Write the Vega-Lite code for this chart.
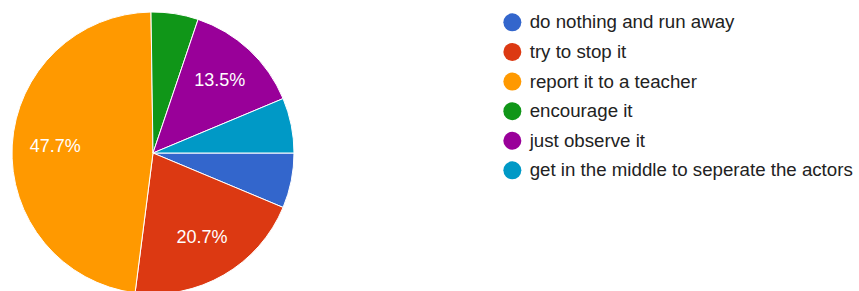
{
  "$schema": "https://vega.github.io/schema/vega-lite/v6.json",
  "width": 306,
  "height": 306,
  "padding": 0,
  "background": "white",
  "config": {"view": {"stroke": null}, "font": "Liberation Sans"},
  "data": {
    "values": [
      {"idx": 1, "answer": "do nothing and run away", "count": 7, "label": ""},
      {"idx": 2, "answer": "try to stop it", "count": 23, "label": "20.7%"},
      {"idx": 3, "answer": "report it to a teacher", "count": 53, "label": "47.7%"},
      {"idx": 4, "answer": "encourage it", "count": 6, "label": ""},
      {"idx": 5, "answer": "just observe it", "count": 15, "label": "13.5%"},
      {"idx": 6, "answer": "get in the middle to seperate the actors", "count": 7, "label": ""}
    ]
  },
  "encoding": {
    "theta": {"field": "count", "type": "quantitative", "stack": true, "scale": {"range": [1.5707963, 7.8539816]}},
    "order": {"field": "idx", "type": "quantitative"}
  },
  "layer": [
    {
      "mark": {"type": "arc", "outerRadius": 141, "stroke": "white", "strokeWidth": 1},
      "encoding": {
        "color": {
          "field": "answer",
          "type": "nominal",
          "scale": {
            "domain": ["do nothing and run away", "try to stop it", "report it to a teacher", "encourage it", "just observe it", "get in the middle to seperate the actors"],
            "range": ["#3366cc", "#dc3912", "#ff9900", "#109618", "#990099", "#0099c6"]
          },
          "legend": {
            "title": null,
            "orient": "none",
            "legendX": 503,
            "legendY": 13,
            "symbolType": "circle",
            "symbolSize": 324,
            "symbolStrokeWidth": 0,
            "symbolOpacity": 1,
            "labelFontSize": 18.7,
            "labelColor": "#222222",
            "labelOffset": 8,
            "rowPadding": 9.6,
            "labelLimit": 400
          }
        }
      }
    },
    {
      "mark": {"type": "text", "radius": 98, "color": "white", "fontSize": 18},
      "encoding": {
        "text": {"field": "label", "type": "nominal"}
      }
    }
  ]
}
